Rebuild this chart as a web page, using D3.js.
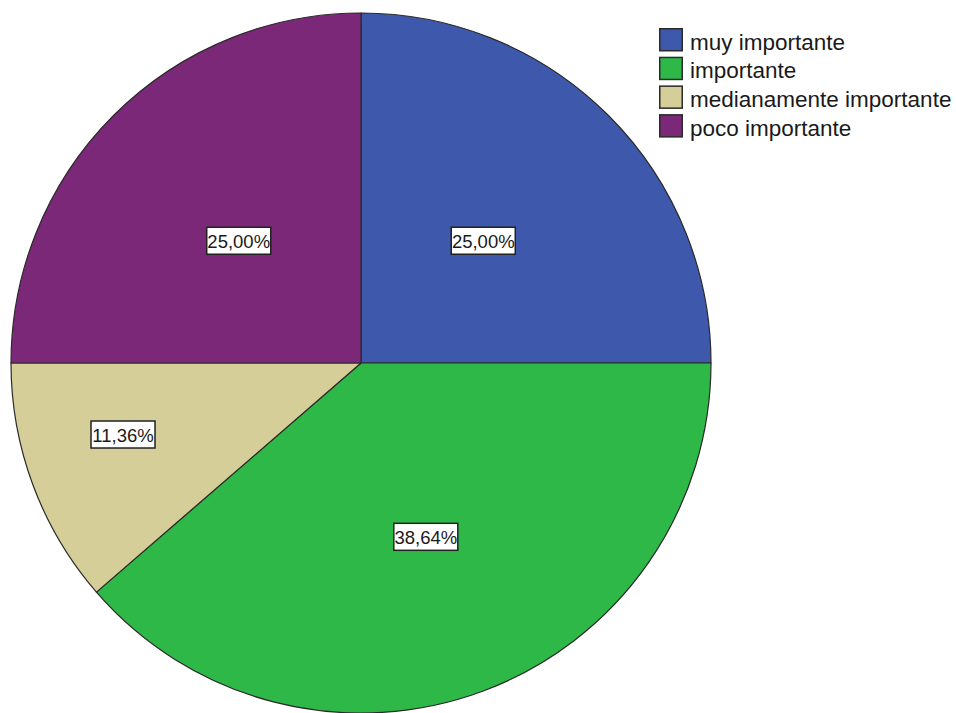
<!DOCTYPE html>
<html>
<head>
<meta charset="utf-8">
<script src="https://cdn.jsdelivr.net/npm/d3@7/dist/d3.min.js"></script>
<style>
  html, body { margin: 0; padding: 0; background: #fff; }
  svg { display: block; }
</style>
</head>
<body>
<script>
// Category names, shares (percent) and fill colours
const categories = ["muy importante", "importante", "medianamente importante", "poco importante"];
const values = [25.00, 38.64, 11.36, 25.00];
const colors = ["#3e58ac", "#2eb848", "#d5ce98", "#7b2879"];

const W = 956, H = 713;
const cx = 361, cy = 363, R = 350;

const svg = d3.select("body").append("svg")
  .attr("width", W).attr("height", H);

const data = categories.map((c, i) => ({ name: c, value: values[i], color: colors[i] }));

const pie = d3.pie().sort(null).value(d => d.value);
const arcs = pie(data);
const arc = d3.arc().innerRadius(0).outerRadius(R);

const g = svg.append("g").attr("transform", `translate(${cx},${cy})`);

g.selectAll("path.slice")
  .data(arcs)
  .join("path")
  .attr("class", "slice")
  .attr("d", arc)
  .attr("fill", d => d.data.color)
  .attr("stroke", "#2a2a2a")
  .attr("stroke-width", 1.2)
  .attr("stroke-linejoin", "round");

// Percentage labels: small slices get pushed further toward the rim
const fmt = v => d3.format(".2f")(v).replace(".", ",") + "%";
const labelRadius = d => {
  const share = (d.endAngle - d.startAngle) / (2 * Math.PI);
  if (share < 0.15) return R * 0.71;
  if (share > 0.3) return R * 0.53;
  return R * 0.494;
};
const labelAngle = d => {
  const share = (d.endAngle - d.startAngle) / (2 * Math.PI);
  const mid = (d.startAngle + d.endAngle) / 2;
  return share < 0.15 ? mid + 0.065 : mid;
};

const labels = g.selectAll("g.label")
  .data(arcs)
  .join("g")
  .attr("class", "label")
  .attr("transform", d => {
    const a = labelAngle(d), r = labelRadius(d);
    return `translate(${Math.sin(a) * r},${-Math.cos(a) * r})`;
  });

labels.append("rect")
  .attr("x", -32).attr("y", -13.5)
  .attr("width", 64).attr("height", 27)
  .attr("fill", "#fff")
  .attr("stroke", "#222")
  .attr("stroke-width", 1.5);

labels.append("text")
  .attr("text-anchor", "middle")
  .attr("y", 7)
  .attr("font-family", "Liberation Sans, Arial, sans-serif")
  .attr("font-size", 18.5)
  .attr("fill", "#1a1a1a")
  .text(d => fmt(d.data.value));

// Legend
const legend = svg.append("g").attr("transform", "translate(659,28)");
const rowH = 28.7;
const rows = legend.selectAll("g.row")
  .data(data)
  .join("g")
  .attr("class", "row")
  .attr("transform", (d, i) => `translate(0,${i * rowH})`);

rows.append("rect")
  .attr("x", 0.75).attr("y", 0.75)
  .attr("width", 22.5).attr("height", 22)
  .attr("fill", d => d.color)
  .attr("stroke", "#2a2a2a")
  .attr("stroke-width", 1.5);

rows.append("text")
  .attr("x", 31)
  .attr("y", 21.5)
  .attr("font-family", "Liberation Sans, Arial, sans-serif")
  .attr("font-size", 22.5)
  .attr("fill", "#1a1a1a")
  .text(d => d.name);
</script>
</body>
</html>
